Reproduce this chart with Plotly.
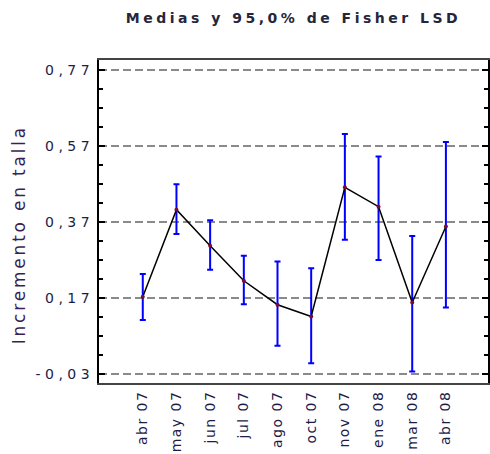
import plotly.graph_objects as go

meses = ["abr 07", "may 07", "jun 07", "jul 07", "ago 07", "oct 07", "nov 07", "ene 08", "mar 08", "abr 08"]
medias = [0.173, 0.402, 0.307, 0.215, 0.152, 0.121, 0.461, 0.410, 0.158, 0.358]
superior = [0.233, 0.469, 0.374, 0.281, 0.266, 0.248, 0.601, 0.542, 0.333, 0.580]
inferior = [0.112, 0.338, 0.244, 0.153, 0.044, -0.002, 0.323, 0.270, -0.024, 0.145]

y_ticks = [-0.03, 0.17, 0.37, 0.57, 0.77]
y_labels = ["-0,03", "0,17", "0,37", "0,57", "0,77"]

err_plus = [s - m for s, m in zip(superior, medias)]
err_minus = [m - i for m, i in zip(medias, inferior)]

fig = go.Figure()
fig.add_trace(go.Scatter(
    x=meses, y=medias, mode="markers",
    marker=dict(size=1, color="rgba(0,0,0,0)"),
    error_y=dict(type="data", symmetric=False, array=err_plus, arrayminus=err_minus,
                 color="#0000ff", thickness=2, width=3),
    showlegend=False, hoverinfo="skip"))
fig.add_trace(go.Scatter(
    x=meses, y=medias, mode="lines",
    line=dict(color="black", width=1.5), showlegend=False))
fig.add_trace(go.Scatter(
    x=meses, y=medias, mode="markers",
    marker=dict(size=4, color="#7a0a30"), showlegend=False))

FONT = "DejaVu Sans, Verdana, sans-serif"
tickfont = dict(family=FONT, size=14, color="#1c1c48")

fig.update_layout(
    width=490, height=454,
    margin=dict(l=99, r=0, t=60, b=71),
    paper_bgcolor="white", plot_bgcolor="white",
    title=dict(text="Medias y 95,0% de Fisher LSD", x=0.5, xref="paper", xanchor="center",
               y=0.96, yref="container", yanchor="middle",
               font=dict(family=FONT, size=14, color="#26263a", weight="bold")),
    xaxis=dict(type="category", range=[-1.3, 10.25], tickangle=-90, tickfont=tickfont,
               showline=True, linecolor="#444444", linewidth=2, mirror=True,
               ticks="", showgrid=False, zeroline=False, fixedrange=True),
    yaxis=dict(range=[-0.054, 0.796], tickmode="array", tickvals=y_ticks, ticktext=y_labels,
               tickfont=tickfont, ticks="inside", ticklen=6, tickcolor="black", tickwidth=1.5,
               showline=True, linecolor="black", linewidth=2, mirror="ticks",
               showgrid=True, gridcolor="#8a8a8a", gridwidth=1.5, griddash="8px,4px",
               zeroline=False,
               minor=dict(tickmode="linear", tick0=-0.03, dtick=0.05, ticks="inside", ticklen=4,
                          tickcolor="black", showgrid=False)),
    annotations=[dict(text="Incremento en talla", textangle=-90, xref="paper", yref="paper",
                      x=-0.205, y=0.46, xanchor="center", yanchor="middle", showarrow=False,
                      font=dict(family=FONT, size=17, color="#3a1f52"))],
)

post = """
var s=document.createElement('style');
s.textContent='.gtitle{letter-spacing:3.5px} .ytick text{letter-spacing:4.5px} .xtick text{letter-spacing:1.5px} .annotation-text{letter-spacing:2.8px}';
document.head.appendChild(s);
"""
fig.write_html("out.html", post_script=post)
